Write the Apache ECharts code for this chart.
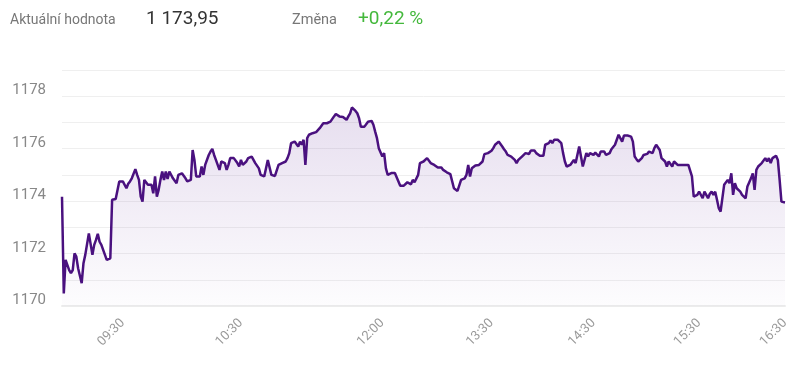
<!DOCTYPE html>
<html>
<head>
<meta charset="utf-8">
<script src="https://cdn.jsdelivr.net/npm/echarts@6/dist/echarts.min.js"></script>
<style>
html,body{margin:0;padding:0;background:#fff;}
#chart{width:800px;height:368px;}
</style>
</head>
<body>
<div id="chart"></div>
<script>
// Segment boundaries (times) and tick labels
const segStarts = ["09:00","09:30","10:30","12:00","13:30","14:30","15:30","16:30"];
const xTickLabels = ["09:30","10:30","12:00","13:30","14:30","15:30","16:30"];
const yTickLabels = [1170,1172,1174,1176,1178];

const header = { label: "Aktuální hodnota", value: "1 173,95", changeLabel: "Změna", change: "+0,22 %" };

// Values, one array per time segment
const seg0900 = [1174.17,1170.48,1171.76,1171.69,1171.37,1171.25,1171.37,1172.01,1171.88,1171.44,
  1171.37,1170.87,1171.63,1171.95,1172.01,1172.77,1172.71,1171.95,1172.33,1172.52,
  1172.75,1172.45,1172.33,1172.26,1171.95,1171.76,1171.76,1171.82,1174.05,1174.08,
  1174.08,1174.11,1174.75,1174.81];
const seg0930 = [1174.75,1174.75,1174.49,1174.66,1174.75,1174.87,1174.94,1175.22,1175.00,1174.81,
  1174.17,1173.98,1174.81,1174.87,1174.62,1174.68,1174.62,1174.30,1174.94,1174.17,
  1174.43,1174.81,1175.13,1174.81,1175.13,1174.84,1175.13,1175.17,1174.87,1174.94,
  1174.68,1175.00,1175.06,1175.06,1175.06,1174.87,1174.75,1174.71,1174.81,1175.95,
  1175.57,1174.94,1175.00,1174.94,1175.32,1175.00,1175.38,1175.45,1175.76,1175.89,
  1175.99,1175.76,1175.57,1175.57,1175.19,1175.51,1175.57,1175.45,1175.19,1175.38,
  1175.64,1175.57,1175.64,1175.70,1175.45,1175.32];
const seg1030 = [1175.57,1175.38,1175.32,1175.51,1175.64,1175.64,1175.70,1175.64,1175.45,1175.45,
  1175.25,1175.00,1174.94,1174.94,1175.00,1175.57,1175.57,1175.00,1174.96,1174.96,
  1175.00,1175.38,1175.32,1175.45,1175.45,1175.51,1175.64,1175.83,1176.21,1176.27,
  1176.27,1176.21,1176.08,1176.27,1176.15,1176.34,1175.38,1176.40,1176.53,1176.46,
  1176.59,1176.65,1176.63,1176.65,1176.78,1176.84,1176.97,1177.03,1176.97,1176.97,
  1177.03,1177.10,1177.23,1177.32,1177.27,1177.23,1177.19,1177.21,1177.16,1177.10,
  1177.23,1177.35,1177.57,1177.57,1177.44,1177.35,1177.16,1176.84,1176.80,1176.84,
  1176.84,1177.03,1177.10,1177.06,1176.91,1176.65,1176.40,1176.02,1176.08];
const seg1200 = [1175.70,1175.83,1175.25,1175.00,1174.94,1175.07,1175.03,1175.07,1175.07,1174.75,
  1174.59,1174.59,1174.59,1174.62,1174.72,1174.72,1174.64,1174.81,1174.72,1174.77,
  1175.00,1175.45,1175.51,1175.51,1175.57,1175.64,1175.57,1175.45,1175.38,1175.38,
  1175.32,1175.28,1175.28,1175.28,1175.19,1175.13,1175.10,1175.07,1175.03,1174.97,
  1174.49,1174.43,1174.39,1174.34,1174.81,1174.81,1174.87,1175.00,1175.38,1174.94,
  1175.25,1175.32,1175.36,1175.36,1175.38,1175.45,1175.51,1175.79,1175.83,1175.83,
  1175.87];
const seg1330 = [1175.92,1176.02,1176.15,1176.21,1176.27,1176.21,1176.08,1175.98,1175.89,1175.76,
  1175.73,1175.70,1175.64,1175.57,1175.45,1175.57,1175.64,1175.70,1175.76,1175.83,
  1175.85,1175.80,1175.93,1175.95,1175.93,1175.83,1175.76,1175.73,1175.70,1175.73,
  1176.15,1176.21,1176.21,1176.31,1176.21,1176.34,1176.27,1176.34,1176.34,1176.21,
  1175.83,1175.51,1175.32,1175.34,1175.38,1175.38,1175.57,1175.45,1175.51,1176.08,
  1176.08,1175.32,1175.29,1175.83,1175.70,1175.83,1175.89];
const seg1430 = [1175.76,1175.85,1175.89,1175.70,1175.89,1175.89,1175.89,1175.76,1175.76,1175.83,
  1175.98,1176.02,1176.15,1176.34,1176.53,1176.46,1176.27,1176.50,1176.50,1176.50,
  1176.44,1176.46,1176.27,1175.70,1175.60,1175.51,1175.55,1175.64,1175.76,1175.83,
  1175.80,1175.89,1175.95,1175.83,1176.02,1176.15,1176.21,1175.95,1175.64,1175.57,
  1175.51,1175.32,1175.51,1175.45,1175.32,1175.51,1175.45,1175.38,1175.38,1175.38,
  1175.32,1175.38,1175.38,1175.38,1175.34,1174.94,1174.17,1174.17,1174.24];
const seg1530 = [1174.36,1174.30,1174.11,1174.36,1174.24,1174.11,1174.28,1174.36,1174.24,1174.36,
  1174.05,1173.73,1173.60,1173.66,1174.62,1174.68,1174.81,1174.68,1175.06,1174.24,
  1174.68,1174.49,1174.56,1174.36,1174.24,1174.17,1174.11,1174.56,1174.62,1174.87,
  1175.06,1174.43,1175.19,1175.32,1175.34,1175.45,1175.38,1175.64,1175.51,1175.64,
  1175.45,1175.64,1175.70,1175.73,1175.57,1174.81,1173.98,1173.98,1173.95];

const segments = [seg0900, seg0930, seg1030, seg1200, seg1330, seg1430, seg1530];

function toSec(t){ const p = t.split(':'); return (+p[0])*3600 + (+p[1])*60; }
function fmt(s){ const h=Math.floor(s/3600), m=Math.floor((s%3600)/60), ss=s%60;
  return String(h).padStart(2,'0')+':'+String(m).padStart(2,'0')+':'+String(ss).padStart(2,'0'); }

const times = [], values = [];
segments.forEach((seg, i) => {
  const s0 = toSec(segStarts[i]), s1 = toSec(segStarts[i+1]);
  const last = i === segments.length - 1;
  const denom = last ? seg.length - 1 : seg.length;
  seg.forEach((v, k) => {
    times.push(fmt(s0 + Math.round(k * (s1 - s0) / denom)));
    values.push(v);
  });
});

const chart = echarts.init(document.getElementById('chart'), null, {renderer: 'canvas'});
const option = {
  animation: false,
  backgroundColor: '#ffffff',
  grid: { left: 62, right: 15, top: 70, bottom: 62, containLabel: false },
  graphic: [
    { type: 'text', left: 10, top: 13, style: { text: header.label, fill: '#777', font: '14px Roboto' } },
    { type: 'text', left: 146, top: 10, style: { text: header.value, fill: '#333', font: '19px Roboto' } },
    { type: 'text', left: 292, top: 13, style: { text: header.changeLabel, fill: '#777', font: '14.5px Roboto' } },
    { type: 'text', left: 358, top: 10, style: { text: header.change, fill: '#44b83c', font: '19px Roboto' } }
  ],
  xAxis: {
    type: 'category',
    data: times,
    boundaryGap: false,
    axisLine: { show: true, lineStyle: { color: '#ececec', width: 2 } },
    axisTick: { show: false },
    splitLine: { show: false },
    axisLabel: {
      rotate: 45,
      color: '#9a9a9a',
      fontFamily: 'Roboto',
      fontSize: 13,
      margin: 15,
      interval: (idx, val) => val.endsWith(':00') && xTickLabels.includes(val.slice(0,5)),
      formatter: (val) => val.slice(0,5)
    }
  },
  yAxis: {
    type: 'value',
    min: 1170, max: 1179, interval: 1,
    axisLine: { show: false },
    axisTick: { show: false },
    splitLine: { lineStyle: { color: '#efefef', width: 1 } },
    axisLabel: {
      color: '#888',
      fontFamily: 'Roboto',
      fontSize: 15,
      margin: 16,
      verticalAlign: 'bottom',
      lineHeight: 11,
      formatter: (v) => yTickLabels.includes(v) ? String(v) : ''
    }
  },
  series: [{
    type: 'line',
    data: values,
    symbol: 'none',
    smooth: false,
    lineStyle: { color: '#4a117f', width: 2.5 },
    areaStyle: {
      color: new echarts.graphic.LinearGradient(0, 0, 0, 1, [
        { offset: 0, color: 'rgba(110,60,160,0.24)' },
        { offset: 1, color: 'rgba(110,60,160,0.02)' }
      ])
    }
  }]
};
chart.setOption(option);
</script>
</body>
</html>
